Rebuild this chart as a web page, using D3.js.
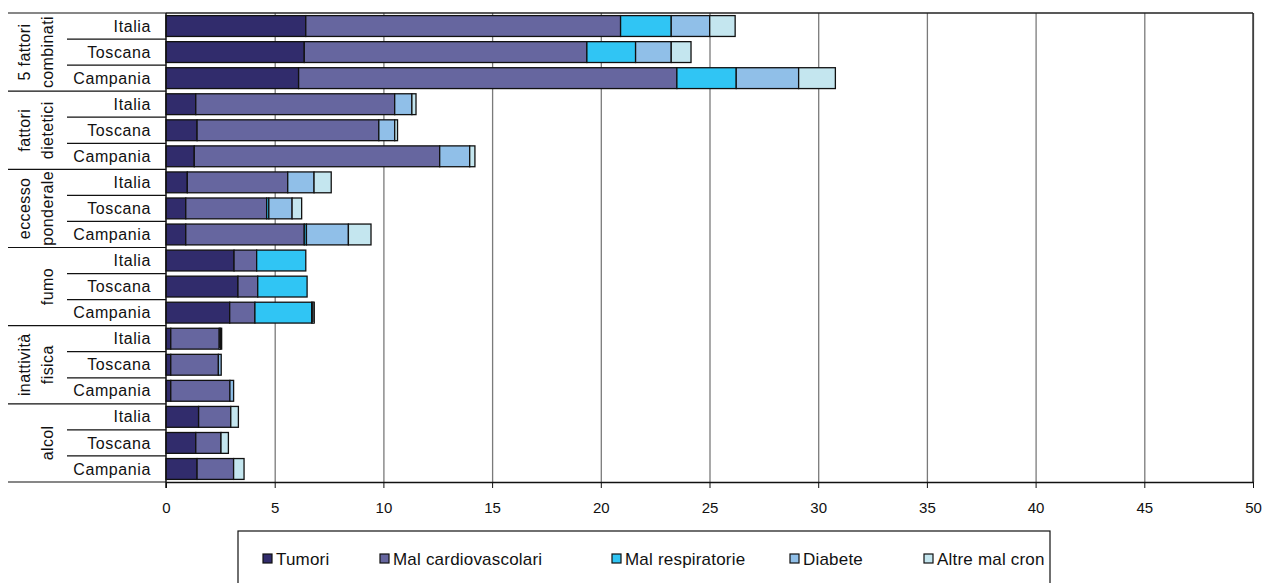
<!DOCTYPE html>
<html>
<head>
<meta charset="utf-8">
<script src="https://cdn.jsdelivr.net/npm/d3@7"></script>
<style>
  body { margin: 0; background: #fff; }
  svg { font-family: "Liberation Sans", Arial, sans-serif; }
</style>
</head>
<body>
<div id="chart"></div>
<script>
// categories
const groupLines = [
  ['5 fattori', 'combinati'],
  ['fattori', 'dietetici'],
  ['eccesso', 'ponderale'],
  ['fumo'],
  ['inattività', 'fisica'],
  ['alcol']
];
const regions = ['Italia', 'Toscana', 'Campania'];
const seriesNames = ['Tumori', 'Mal cardiovascolari', 'Mal respiratorie', 'Diabete', 'Altre mal cron'];
const seriesColors = ['#312c6c', '#66669f', '#30c5f4', '#90bfe8', '#c4e6ef'];
const xTicks = [0, 5, 10, 15, 20, 25, 30, 35, 40, 45, 50];

// values, one entry per row (group x region, top to bottom)
const tumori = [6.43, 6.36, 6.10, 1.37, 1.43, 1.30, 0.98, 0.91, 0.91, 3.13, 3.31, 2.93, 0.22, 0.22, 0.22, 1.50, 1.37, 1.43];
const cardio = [14.48, 13.00, 17.40, 9.15, 8.36, 11.29, 4.62, 3.72, 5.45, 1.04, 0.91, 1.16, 2.23, 2.19, 2.72, 1.48, 1.16, 1.68];
const respir = [2.33, 2.24, 2.73, 0, 0, 0, 0, 0.10, 0.10, 2.26, 2.27, 2.61, 0, 0, 0, 0, 0, 0];
const diabete = [1.77, 1.64, 2.87, 0.79, 0.73, 1.38, 1.21, 1.07, 1.93, 0, 0, 0.06, 0.06, 0.13, 0.17, 0, 0, 0];
const altre = [1.17, 0.91, 1.69, 0.19, 0.13, 0.24, 0.79, 0.44, 1.04, 0, 0, 0.06, 0.05, 0, 0, 0.35, 0.34, 0.48];

const W = 1268, H = 583;
const mLeft = 166, mRight = 1253, mTop = 13, mBottom = 482;

const rows = [];
groupLines.forEach((g, gi) => {
  regions.forEach((r, ri) => {
    const i = gi * regions.length + ri;
    rows.push({
      key: gi + '-' + r, group: gi, region: r,
      'Tumori': tumori[i],
      'Mal cardiovascolari': cardio[i],
      'Mal respiratorie': respir[i],
      'Diabete': diabete[i],
      'Altre mal cron': altre[i]
    });
  });
});

const svg = d3.select('#chart').append('svg')
  .attr('width', W).attr('height', H);

const x = d3.scaleLinear().domain([0, 50]).range([mLeft, mRight]);
const y = d3.scaleBand().domain(rows.map(d => d.key)).range([mTop, mBottom])
  .paddingInner(0.2).paddingOuter(0.1);
const rowH = (mBottom - mTop) / rows.length;

// gridlines
svg.append('g')
  .attr('transform', `translate(0,${mBottom})`)
  .call(d3.axisBottom(x).tickValues(xTicks.slice(1)).tickSize(-(mBottom - mTop)).tickFormat(''))
  .call(g => g.select('.domain').remove())
  .call(g => g.selectAll('line').attr('stroke', '#7a7a7a').attr('stroke-width', 1.3));

// plot frame top/right
svg.append('line').attr('x1', mLeft).attr('x2', mRight).attr('y1', mTop).attr('y2', mTop)
  .attr('stroke', '#222').attr('stroke-width', 1.3);
svg.append('line').attr('x1', mRight).attr('x2', mRight).attr('y1', mTop).attr('y2', mBottom)
  .attr('stroke', '#222').attr('stroke-width', 1.3);

// bars
const stack = d3.stack().keys(seriesNames);
const layers = stack(rows);
svg.append('g').selectAll('g')
  .data(layers)
  .join('g')
  .attr('fill', (d, i) => seriesColors[i])
  .selectAll('rect')
  .data(d => d.filter(p => p[1] - p[0] > 0))
  .join('rect')
  .attr('x', d => x(d[0]))
  .attr('width', d => x(d[1]) - x(d[0]))
  .attr('y', d => y(d.data.key))
  .attr('height', y.bandwidth())
  .attr('stroke', '#111')
  .attr('stroke-width', 1.3);

// x axis
const xAxis = svg.append('g')
  .attr('transform', `translate(0,${mBottom})`)
  .call(d3.axisBottom(x).tickValues(xTicks).tickSize(6).tickPadding(14).tickSizeOuter(0));
xAxis.select('.domain').attr('stroke', '#111').attr('stroke-width', 1.5);
xAxis.selectAll('line').attr('stroke', '#111');
xAxis.selectAll('text').attr('font-size', 15).attr('fill', '#111')
  .attr('font-family', '"Liberation Sans", Arial, sans-serif');

// y axis line
svg.append('line').attr('x1', mLeft).attr('x2', mLeft).attr('y1', mTop).attr('y2', mBottom + 6)
  .attr('stroke', '#111').attr('stroke-width', 1.5);

// category separators
rows.forEach((d, i) => {
  if (i % regions.length !== 0) {
    svg.append('line')
      .attr('x1', 67).attr('x2', mLeft)
      .attr('y1', mTop + i * rowH).attr('y2', mTop + i * rowH)
      .attr('stroke', '#111').attr('stroke-width', 1.2);
  }
});
for (let g = 0; g <= groupLines.length; g++) {
  svg.append('line')
    .attr('x1', 8).attr('x2', mLeft)
    .attr('y1', mTop + g * regions.length * rowH).attr('y2', mTop + g * regions.length * rowH)
    .attr('stroke', '#111').attr('stroke-width', 1.2);
}

// region labels
svg.append('g').selectAll('text')
  .data(rows)
  .join('text')
  .attr('x', 151)
  .attr('y', d => y(d.key) + y.bandwidth() / 2)
  .attr('dy', '0.35em')
  .attr('text-anchor', 'end')
  .attr('font-size', 16)
  .attr('letter-spacing', 0.6)
  .attr('fill', '#111')
  .text(d => d.region);

// group labels (rotated)
groupLines.forEach((lines, gi) => {
  const yc = mTop + (gi + 0.5) * regions.length * rowH;
  lines.forEach((ln, li) => {
    const xc = 47 - (lines.length - 1 - li) * 23;
    svg.append('text')
      .attr('transform', `translate(${xc},${yc}) rotate(-90)`)
      .attr('text-anchor', 'middle')
      .attr('dy', '0.35em')
      .attr('font-size', 16)
      .attr('letter-spacing', 0.4)
      .attr('fill', '#111')
      .text(ln);
  });
});

// legend
svg.append('rect')
  .attr('x', 238).attr('y', 531).attr('width', 812).attr('height', 70)
  .attr('fill', 'none').attr('stroke', '#111').attr('stroke-width', 1.2);
const legendX = [263, 380, 612, 790, 924];
const lg = svg.append('g').selectAll('g')
  .data(seriesNames)
  .join('g')
  .attr('transform', (d, i) => `translate(${legendX[i]},559)`);
lg.append('rect')
  .attr('x', 0).attr('y', -5).attr('width', 9).attr('height', 9)
  .attr('fill', (d, i) => seriesColors[i])
  .attr('stroke', '#111').attr('stroke-width', 1.2);
lg.append('text')
  .attr('x', 13).attr('dy', '0.35em')
  .attr('font-size', 17)
  .attr('letter-spacing', 0.2)
  .attr('fill', '#111')
  .text(d => d);
</script>
</body>
</html>
